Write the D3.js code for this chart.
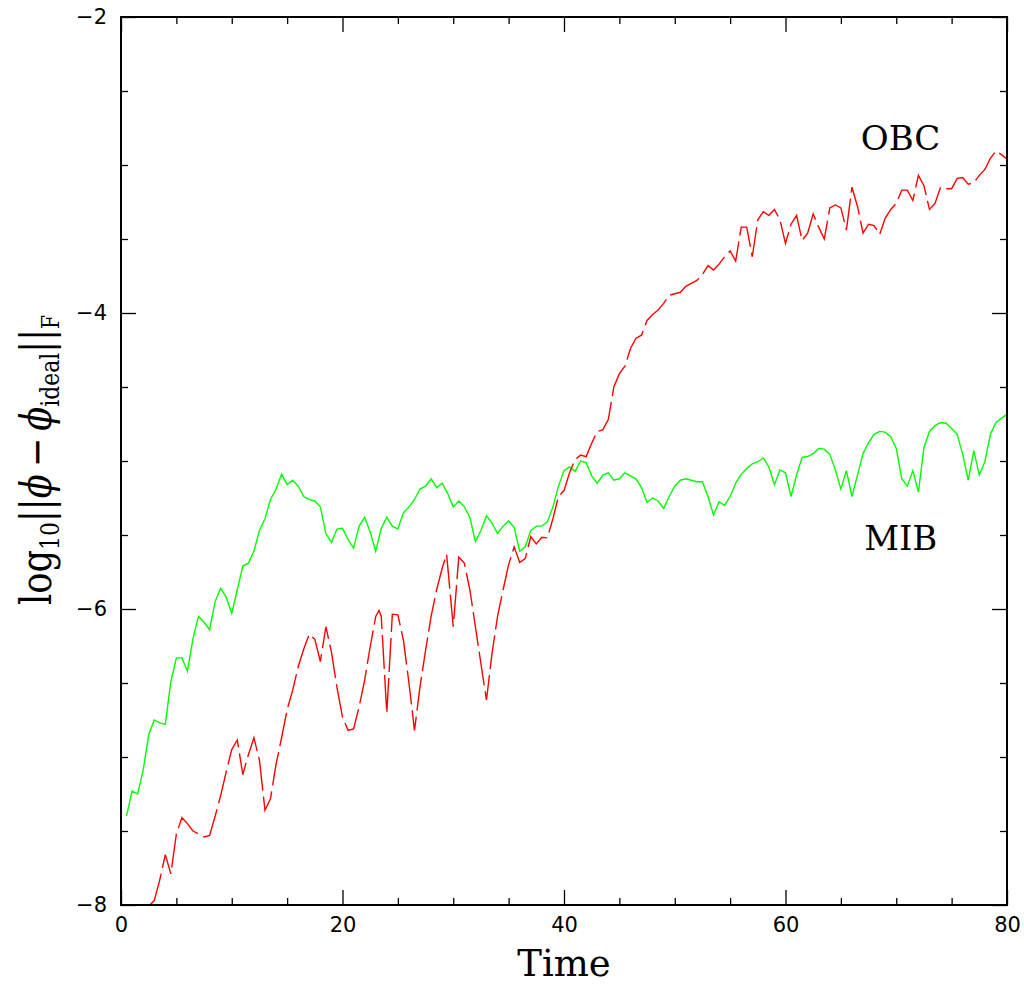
<!DOCTYPE html>
<html><head><meta charset="utf-8">
<script src="https://cdn.jsdelivr.net/npm/d3@7"></script>
<style>body{margin:0;background:#fff}svg{display:block}</style>
</head><body>
<script>
// ---- data ----
const mibTime = [0.5,1,1.5,2,2.5,3,3.5,4,4.5,5,5.5,6,6.5,7,7.5,8,8.5,9,9.5,10,10.5,11,11.5,12,12.5,13,13.5,14,14.5,15,15.5,16,16.5,17,17.5,18,18.5,19,19.5,20,20.5,21,21.5,22,22.5,23,23.5,24,24.5,25,25.5,26,26.5,27,27.5,28,28.5,29,29.5,30,30.5,31,31.5,32,32.5,33,33.5,34,34.5,35,35.5,36,36.5,37,37.5,38,38.5,39,39.5,40,40.5,41,41.5,42,42.5,43,43.5,44,44.5,45,45.5,46,46.5,47,47.5,48,48.5,49,49.5,50,50.5,51,51.5,52,52.5,53,53.5,54,54.5,55,55.5,56,56.5,57,57.5,58,58.5,59,59.5,60,60.5,61,61.5,62,62.5,63,63.5,64,64.5,65,65.5,66,66.5,67,67.5,68,68.5,69,69.5,70,70.5,71,71.5,72,72.5,73,73.5,74,74.5,75,75.5,76,76.5,77,77.5,78,78.5,79,79.5,80];
const mibValue = [-7.40,-7.23,-7.25,-7.09,-6.85,-6.75,-6.77,-6.78,-6.49,-6.33,-6.33,-6.42,-6.20,-6.05,-6.09,-6.14,-5.95,-5.86,-5.92,-6.03,-5.87,-5.71,-5.69,-5.61,-5.47,-5.39,-5.26,-5.19,-5.09,-5.16,-5.13,-5.17,-5.24,-5.26,-5.27,-5.31,-5.49,-5.55,-5.46,-5.455,-5.53,-5.59,-5.44,-5.38,-5.48,-5.61,-5.455,-5.38,-5.44,-5.46,-5.35,-5.31,-5.26,-5.19,-5.17,-5.12,-5.18,-5.15,-5.22,-5.31,-5.27,-5.31,-5.38,-5.545,-5.47,-5.37,-5.42,-5.49,-5.44,-5.405,-5.45,-5.61,-5.58,-5.47,-5.44,-5.44,-5.41,-5.31,-5.17,-5.065,-5.04,-5.07,-5.00,-5.01,-5.10,-5.15,-5.095,-5.08,-5.13,-5.12,-5.08,-5.10,-5.12,-5.18,-5.28,-5.25,-5.27,-5.32,-5.24,-5.17,-5.13,-5.12,-5.13,-5.14,-5.14,-5.24,-5.365,-5.275,-5.30,-5.24,-5.15,-5.09,-5.05,-5.02,-5.005,-4.98,-5.04,-5.16,-5.06,-5.08,-5.24,-5.095,-4.975,-4.97,-4.95,-4.915,-4.92,-4.955,-5.06,-5.19,-5.065,-5.24,-5.095,-4.95,-4.875,-4.82,-4.80,-4.805,-4.835,-4.915,-5.12,-5.17,-5.065,-5.21,-4.91,-4.80,-4.76,-4.74,-4.745,-4.78,-4.82,-4.955,-5.13,-4.93,-5.095,-5.005,-4.82,-4.74,-4.71,-4.685];
const obcTime = [2.6,3,3.5,4,4.5,5,5.5,6,6.5,7,7.5,8,8.5,9,9.5,10,10.5,11,11.4,12,12.5,13,13.5,14,14.5,15,15.5,16,16.5,17,17.5,18,18.5,19,19.5,20,20.5,21,21.5,22,22.5,23,23.3,23.5,24,24.5,25,25.5,26,26.5,27,27.5,28,28.5,29,29.4,30,30.5,31,31.5,32,32.5,33,33.5,34,34.5,35,35.5,36,36.5,37,37.5,38,38.5,39,39.5,40,40.5,41,41.5,42,42.5,43,43.5,44,44.5,45,45.5,46,46.5,47,47.5,48,48.5,49,49.5,50,50.5,51,51.5,52,52.5,53,53.5,54,54.5,55,55.5,56,56.5,57,57.5,58,58.5,59,59.5,60,60.5,61,61.5,62,62.5,63,63.5,64,64.5,65,65.5,66,66.5,67,67.5,68,68.5,69,69.5,70,70.5,71,71.5,72,72.5,73,73.5,74,74.5,75,75.5,76,76.5,77,77.5,78,78.5,79,79.5,80];
const obcValue = [-8.0,-7.97,-7.83,-7.66,-7.79,-7.52,-7.41,-7.45,-7.50,-7.52,-7.54,-7.53,-7.40,-7.26,-7.10,-6.95,-6.885,-7.12,-7.01,-6.87,-7.02,-7.36,-7.28,-7.05,-6.87,-6.68,-6.55,-6.39,-6.27,-6.17,-6.205,-6.355,-6.12,-6.29,-6.53,-6.73,-6.82,-6.81,-6.66,-6.48,-6.255,-6.05,-6.01,-6.05,-6.705,-6.035,-6.04,-6.21,-6.50,-6.82,-6.525,-6.28,-6.05,-5.87,-5.725,-5.63,-6.12,-5.65,-5.69,-5.87,-6.12,-6.37,-6.615,-6.30,-6.05,-5.87,-5.70,-5.58,-5.685,-5.66,-5.51,-5.56,-5.515,-5.52,-5.39,-5.24,-5.20,-5.08,-4.99,-4.96,-4.97,-4.88,-4.80,-4.79,-4.72,-4.50,-4.41,-4.36,-4.24,-4.17,-4.15,-4.05,-4.01,-3.98,-3.935,-3.88,-3.87,-3.86,-3.82,-3.80,-3.78,-3.74,-3.68,-3.71,-3.67,-3.62,-3.58,-3.65,-3.42,-3.42,-3.62,-3.37,-3.315,-3.34,-3.30,-3.37,-3.53,-3.40,-3.34,-3.51,-3.46,-3.33,-3.42,-3.50,-3.29,-3.27,-3.29,-3.44,-3.15,-3.28,-3.46,-3.40,-3.41,-3.47,-3.36,-3.30,-3.26,-3.17,-3.17,-3.24,-3.07,-3.14,-3.30,-3.26,-3.15,-3.16,-3.16,-3.09,-3.085,-3.13,-3.12,-3.07,-3.03,-2.955,-2.905,-2.93,-2.96];
const xMajorTicks = [0,20,40,60,80];
const xMinorTicks = [5,10,15,25,30,35,45,50,55,65,70,75];
const yMajorTicks = [-8,-6,-4,-2];
const yMinorTicks = [-7.5,-7,-6.5,-5.5,-5,-4.5,-3.5,-3,-2.5];
const xLabel = "Time";
const seriesLabels = ["OBC","MIB"];
const labelPos = [[66.8,-2.9],[67.1,-5.6]]; // label anchor in data coords

// ---- layout ----
const W = 1024, H = 986;
const m = {l:121, t:17, r:17, b:81};
const iw = W - m.l - m.r, ih = H - m.t - m.b;
const svg = d3.select("body").append("svg").attr("width",W).attr("height",H);
const g = svg.append("g").attr("transform",`translate(${m.l},${m.t})`);
const x = d3.scaleLinear().domain([0,80]).range([0,iw]);
const y = d3.scaleLinear().domain([-8,-2]).range([ih,0]);

svg.append("defs").append("clipPath").attr("id","clip")
  .append("rect").attr("width",iw).attr("height",ih);

const tickFont = "'DejaVu Sans', sans-serif";
const bigFont = "'DejaVu Serif', serif";

function styleAxis(sel){ sel.select(".domain").remove(); sel.selectAll("line").attr("stroke","#000").attr("stroke-width",1.3); }
const xb = g.append("g").attr("transform",`translate(0,${ih})`)
  .call(d3.axisBottom(x).tickValues(xMajorTicks).tickSizeInner(-15).tickSizeOuter(0).tickPadding(12).tickFormat(d3.format("d")));
styleAxis(xb);
xb.selectAll("text").attr("font-family",tickFont).attr("font-size",21).attr("fill","#000");
const xbm = g.append("g").attr("transform",`translate(0,${ih})`)
  .call(d3.axisBottom(x).tickValues(xMinorTicks).tickSizeInner(-7).tickSizeOuter(0).tickFormat(""));
styleAxis(xbm);
const xt = g.append("g").call(d3.axisTop(x).tickValues(xMajorTicks).tickSizeInner(-15).tickSizeOuter(0).tickFormat(""));
styleAxis(xt);
const xtm = g.append("g").call(d3.axisTop(x).tickValues(xMinorTicks).tickSizeInner(-7).tickSizeOuter(0).tickFormat(""));
styleAxis(xtm);

const yl = g.append("g").call(d3.axisLeft(y).tickValues(yMajorTicks).tickSizeInner(-15).tickSizeOuter(0).tickPadding(14).tickFormat(d=>"\u2212"+Math.abs(d)));
styleAxis(yl);
yl.selectAll("text").attr("font-family",tickFont).attr("font-size",21).attr("fill","#000");
const ylm = g.append("g").call(d3.axisLeft(y).tickValues(yMinorTicks).tickSizeInner(-7).tickSizeOuter(0).tickFormat(""));
styleAxis(ylm);
const yr = g.append("g").attr("transform",`translate(${iw},0)`).call(d3.axisRight(y).tickValues(yMajorTicks).tickSizeInner(-15).tickSizeOuter(0).tickFormat(""));
styleAxis(yr);
const yrm = g.append("g").attr("transform",`translate(${iw},0)`).call(d3.axisRight(y).tickValues(yMinorTicks).tickSizeInner(-7).tickSizeOuter(0).tickFormat(""));
styleAxis(yrm);

// lines
const line = d3.line().x(d=>x(d[0])).y(d=>y(d[1]));
const mib = mibTime.map((t,i)=>[t,mibValue[i]]);
const obc = obcTime.map((t,i)=>[t,obcValue[i]]);
const plot = g.append("g").attr("clip-path","url(#clip)");
plot.append("path").datum(mib).attr("d",line).attr("fill","none").attr("stroke","#00ff00").attr("stroke-width",1.4);
plot.append("path").datum(obc).attr("d",line).attr("fill","none").attr("stroke","#ff0000").attr("stroke-width",1.4).attr("stroke-dasharray","34,6");

// frame
g.append("rect").attr("width",iw).attr("height",ih).attr("fill","none").attr("stroke","#000").attr("stroke-width",2);

// series labels
seriesLabels.forEach((s,i)=>{
  g.append("text").attr("x",x(labelPos[i][0])).attr("y",y(labelPos[i][1]))
   .attr("font-family",bigFont).attr("font-size",34).attr("fill","#000").text(s);
});

// axis titles
svg.append("text").attr("x",m.l+iw/2).attr("y",976).attr("text-anchor","middle")
  .attr("font-family",bigFont).attr("font-size",37).attr("fill","#000").text(xLabel);

const yt = svg.append("text").attr("transform","translate(51,460) rotate(-90) scale(0.84,1)").attr("text-anchor","middle")
  .attr("font-family",bigFont).attr("font-size",42).attr("fill","#000");
yt.append("tspan").text("log");
yt.append("tspan").attr("font-size",26).attr("dy",8).text("10");
yt.append("tspan").attr("dy",-8).text("||");
yt.append("tspan").attr("font-style","italic").text("\u03d5");
yt.append("tspan").text("\u2009\u2212\u2009");
yt.append("tspan").attr("font-style","italic").text("\u03d5");
yt.append("tspan").attr("font-size",26).attr("dy",8).text("ideal");
yt.append("tspan").attr("dy",-8).text("||");
yt.append("tspan").attr("font-size",24).attr("dy",8).text("F");
</script>
</body></html>
